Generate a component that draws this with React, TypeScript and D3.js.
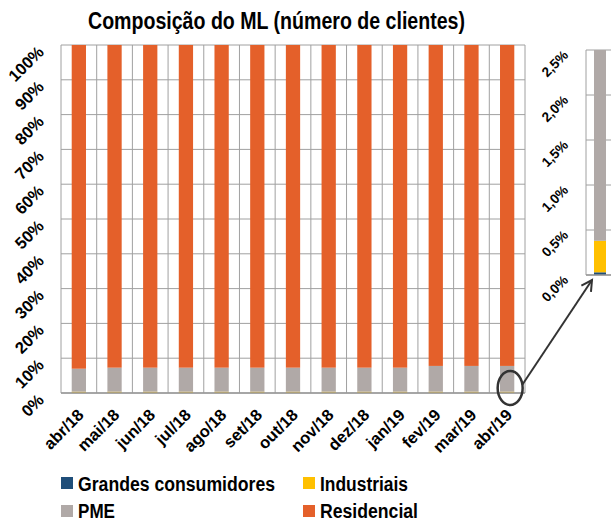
import React from "react";
import * as d3 from "d3";

const months = ["abr/18","mai/18","jun/18","jul/18","ago/18","set/18","out/18","nov/18","dez/18","jan/19","fev/19","mar/19","abr/19"];
const grandes = [0.03,0.03,0.03,0.03,0.03,0.03,0.03,0.03,0.03,0.03,0.03,0.03,0.03];
const industriais = [0.35,0.35,0.35,0.35,0.35,0.35,0.35,0.35,0.35,0.35,0.35,0.35,0.35];
const pme = [6.6,6.9,6.9,6.9,6.9,6.9,6.9,6.9,6.9,6.9,7.4,7.4,7.4];
const residencial = [93.02,92.72,92.72,92.72,92.72,92.72,92.72,92.72,92.72,92.72,92.22,92.22,92.22];
const yTicks = [0,10,20,30,40,50,60,70,80,90,100];
const zoomTicks = [0,0.5,1.0,1.5,2.0,2.5];
const zoomLabels = ["0,0%","0,5%","1,0%","1,5%","2,0%","2,5%"];

const seriesNames = ["Grandes consumidores","Industriais","PME","Residencial"];
const colors = ["#1F4E79","#FFC000","#B0A9A7","#E4602A"];
const seriesData = [grandes, industriais, pme, residencial];

const FONT = "'Liberation Sans Narrow', 'Arial Narrow', 'Liberation Sans', Arial, sans-serif";

export default function App() {
  const W = 611, H = 523;
  const x = d3.scaleBand<string>().domain(months).range([61, 525]).padding(0);
  const y = d3.scaleLinear().domain([0, 100]).range([393, 45]);
  const step = x.step();
  const bw = step * 0.4;

  const stacked = months.map((m, i) => {
    let acc = 0;
    return seriesData.map((s, k) => {
      const y0 = acc; acc += s[i];
      return { m, k, y0, y1: acc };
    });
  });

  const zy = d3.scaleLinear().domain([0, 2.5]).range([275, 50]);
  const zx0 = 586, zx1 = 614;
  const last = months.length - 1;
  let zacc = 0;
  const zstack = seriesData.map((s, k) => {
    const a = zacc; zacc += s[last];
    return { k, y0: Math.min(a, 2.5), y1: Math.min(zacc, 2.5) };
  });

  const grid = "#A0A0A0";
  const cxE = (x(months[last]) as number) + step / 2 + 3;
  const cyE = y(0) - 5;
  const ax0 = cxE + 12, ay0 = cyE - 3;
  const ax1 = zx0 + 6, ay1 = zy(0) + 5;
  const ang = Math.atan2(ay1 - ay0, ax1 - ax0);
  const hl = 12, ha = 0.5;
  const h1 = [ax1 - hl * Math.cos(ang - ha), ay1 - hl * Math.sin(ang - ha)];
  const h2 = [ax1 - hl * Math.cos(ang + ha), ay1 - hl * Math.sin(ang + ha)];

  return (
    <svg width={W} height={H} style={{ position: "absolute", left: 0, top: 0, background: "#fff" }} fontFamily={FONT}>
      <rect x={0} y={0} width={W} height={H} fill="#fff" />
      <text x={88} y={29} fontSize={23} fontWeight="bold" textLength={377} lengthAdjust="spacingAndGlyphs">Composição do ML (número de clientes)</text>

      {yTicks.map(t => (
        <line key={"h" + t} x1={61} x2={525} y1={y(t)} y2={y(t)} stroke={grid} strokeWidth={1} />
      ))}
      {months.map(m => (
        <line key={"v" + m} x1={x(m)} x2={x(m)} y1={45} y2={393} stroke={grid} strokeWidth={1} />
      ))}
      <line x1={525} x2={525} y1={45} y2={393} stroke={grid} strokeWidth={1} />

      {stacked.map(col => col.map(d => (
        <rect key={d.m + d.k} x={(x(d.m) as number) + (step - bw) / 2} width={bw}
          y={y(d.y1)} height={Math.max(0, y(d.y0) - y(d.y1))} fill={colors[d.k]} />
      )))}
      <line x1={61} x2={525} y1={393} y2={393} stroke="#999" strokeWidth={1.5} />

      {yTicks.map(t => (
        <text key={"yl" + t} transform={`translate(45,${y(t) + 8}) rotate(-45)`} textAnchor="end"
          fontSize={16.5} fontWeight="bold">{t + "%"}</text>
      ))}
      {months.map(m => (
        <text key={"xl" + m} transform={`translate(${(x(m) as number) + step / 2 + 6},416) rotate(-45)`} textAnchor="end"
          fontSize={16.5} fontWeight="bold">{m}</text>
      ))}

      {zoomTicks.map(t => (
        <line key={"zh" + t} x1={zx0} x2={zx1} y1={zy(t)} y2={zy(t)} stroke={grid} strokeWidth={1} />
      ))}
      <line x1={zx0} x2={zx0} y1={zy(2.5)} y2={zy(0)} stroke={grid} strokeWidth={1} />
      {zstack.map(d => (
        <rect key={"z" + d.k} x={594} width={12} y={zy(d.y1)} height={Math.max(0, zy(d.y0) - zy(d.y1))} fill={colors[d.k]} />
      ))}
      <line x1={zx0} x2={zx1} y1={zy(0)} y2={zy(0)} stroke="#999" strokeWidth={1.5} />
      {zoomTicks.map((t, i) => (
        <text key={"zl" + t} transform={`translate(569,${zy(t) + 6}) rotate(-45)`} textAnchor="end"
          fontSize={13.5} fontWeight="bold">{zoomLabels[i]}</text>
      ))}

      <ellipse cx={cxE} cy={cyE} rx={12.5} ry={17} fill="none" stroke="#333" strokeWidth={2.5} />
      <line x1={ax0} y1={ay0} x2={ax1} y2={ay1} stroke="#333" strokeWidth={2} />
      <polyline points={`${h1[0]},${h1[1]} ${ax1},${ay1} ${h2[0]},${h2[1]}`} fill="none" stroke="#333" strokeWidth={2} />

      <rect x={61} y={477} width={12} height={12} fill={colors[0]} />
      <text x={78} y={491} fontSize={20} fontWeight="bold" textLength={197} lengthAdjust="spacingAndGlyphs">{seriesNames[0]}</text>
      <rect x={303} y={477} width={12} height={12} fill={colors[1]} />
      <text x={320} y={491} fontSize={20} fontWeight="bold" textLength={88} lengthAdjust="spacingAndGlyphs">{seriesNames[1]}</text>
      <rect x={61} y={505} width={12} height={12} fill={colors[2]} />
      <text x={78} y={518} fontSize={20} fontWeight="bold" textLength={37} lengthAdjust="spacingAndGlyphs">{seriesNames[2]}</text>
      <rect x={303} y={505} width={12} height={12} fill={colors[3]} />
      <text x={320} y={518} fontSize={20} fontWeight="bold" textLength={98} lengthAdjust="spacingAndGlyphs">{seriesNames[3]}</text>
    </svg>
  );
}
